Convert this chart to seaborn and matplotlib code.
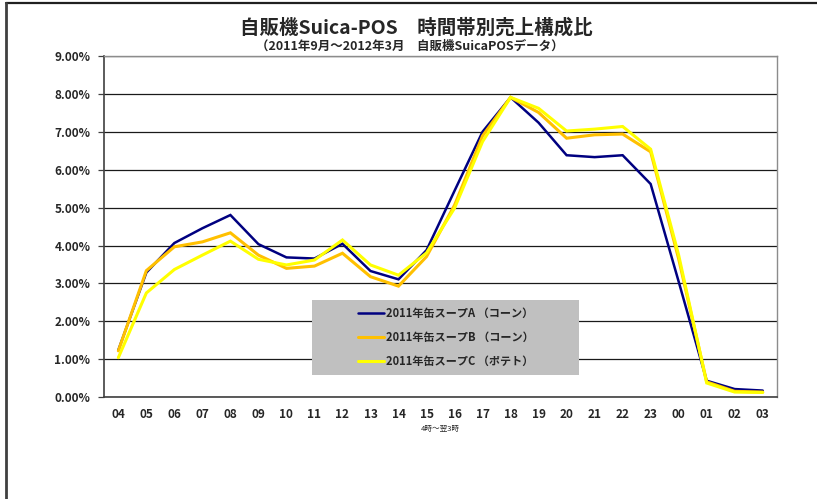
"""
Vending machine Suica-POS: hourly sales share by product (line chart).
"""

import numpy as np
import pandas as pd
import matplotlib
matplotlib.use("Agg")
import matplotlib.pyplot as plt
from matplotlib.patches import Rectangle
from matplotlib.lines import Line2D
import seaborn as sns

HOURS = ["04", "05", "06", "07", "08", "09", "10", "11", "12", "13", "14", "15",
         "16", "17", "18", "19", "20", "21", "22", "23", "00", "01", "02", "03"]

SERIES = ["2011年缶スープA （コーン）", "2011年缶スープB （コーン）", "2011年缶スープC （ポテト）"]

# share of sales per hour, in percent
SOUP_A = [1.24, 3.29, 4.07, 4.46, 4.81, 4.04, 3.69, 3.66, 4.05, 3.33, 3.11, 3.88,
          5.45, 7.01, 7.92, 7.25, 6.39, 6.34, 6.39, 5.63, 3.05, 0.43, 0.21, 0.17]
SOUP_B = [1.22, 3.34, 3.97, 4.10, 4.34, 3.75, 3.40, 3.46, 3.80, 3.18, 2.93, 3.71,
          5.07, 6.90, 7.92, 7.52, 6.84, 6.93, 6.95, 6.48, 3.65, 0.40, 0.15, 0.13]
SOUP_C = [1.04, 2.75, 3.37, 3.75, 4.12, 3.64, 3.49, 3.62, 4.15, 3.49, 3.22, 3.81,
          4.99, 6.75, 7.92, 7.63, 7.03, 7.08, 7.15, 6.55, 3.75, 0.37, 0.13, 0.12]

COLORS = ["#000080", "#FFC000", "#FFFF00"]
WIDTHS = [1.8, 2.2, 2.2]

Y_TICKS = [0, 1, 2, 3, 4, 5, 6, 7, 8, 9]

TITLE = "自販機Suica-POS　時間帯別売上構成比"
SUBTITLE = "（2011年9月～2012年3月　自販機SuicaPOSデータ）"
X_LABEL = "4時～翌3時"


def build_frame() -> pd.DataFrame:
    rows = []
    for name, values in zip(SERIES, [SOUP_A, SOUP_B, SOUP_C]):
        for hour, v in zip(HOURS, values):
            rows.append({"hour": hour, "share": v, "series": name})
    return pd.DataFrame(rows)


def main() -> None:
    sns.set_theme(style="white")
    plt.rcParams["font.family"] = ["Noto Sans CJK JP", "DejaVu Sans"]

    df = build_frame()

    fig = plt.figure(figsize=(8.17, 4.99), dpi=100)
    ax = fig.add_axes([0.1277, 0.2044, 0.823, 0.6824])

    sns.lineplot(
        data=df, x="hour", y="share", hue="series",
        palette=COLORS, hue_order=SERIES, sort=False, ax=ax, legend=False,
    )
    for line, lw in zip(ax.lines, WIDTHS):
        line.set_linewidth(lw)
        line.set_solid_joinstyle("miter")

    # axes
    ax.set_xlim(-0.5, len(HOURS) - 0.5)
    ax.set_ylim(0, 9)
    ax.set_yticks(Y_TICKS)
    ax.set_yticklabels([f"{v:.2f}%" for v in Y_TICKS], fontsize=8.5, fontweight="bold")
    ax.set_xticks(np.arange(len(HOURS)))
    ax.set_xticklabels(HOURS, fontsize=8.5, fontweight="bold")
    ax.set_xticks(np.arange(len(HOURS) + 1) - 0.5, minor=True)
    ax.tick_params(axis="x", which="major", length=0, pad=8)
    ax.tick_params(axis="x", which="minor", length=4, width=0.9, color="#404040", direction="out")
    ax.tick_params(axis="y", length=4, width=0.9, color="#404040", direction="out", left=True, pad=6)
    ax.set_xlabel(X_LABEL, fontsize=5.5, labelpad=3)
    ax.set_ylabel("")

    ax.grid(axis="y", color="#1a1a1a", linewidth=0.9)
    ax.grid(axis="x", visible=False)
    ax.set_axisbelow(True)
    for side in ["left", "bottom"]:
        ax.spines[side].set_color("#404040")
        ax.spines[side].set_linewidth(1.2)
    for side in ["top", "right"]:
        ax.spines[side].set_color("#8c8c8c")
        ax.spines[side].set_linewidth(1.0)

    # legend on a grey panel
    box = Rectangle((0.309, 0.065), 0.397, 0.22, transform=ax.transAxes,
                    facecolor="#C0C0C0", edgecolor="none", zorder=3)
    ax.add_patch(box)
    handles = [Line2D([], [], color=c, linewidth=lw) for c, lw in zip(COLORS, WIDTHS)]
    ax.legend(handles, SERIES, loc="center", bbox_to_anchor=(0.5075, 0.175),
              frameon=False, handlelength=2.4, handletextpad=0.1,
              labelspacing=1.0, prop={"weight": "bold", "size": 8})

    # titles
    fig.text(0.510, 0.944, TITLE, ha="center", va="center", fontsize=14, fontweight="bold")
    fig.text(0.501, 0.908, SUBTITLE, ha="center", va="center", fontsize=9, fontweight="bold")

    # outer frame (top and left edges only)
    fig.add_artist(Line2D([6 / 817, 1], [1 - 3 / 499, 1 - 3 / 499], transform=fig.transFigure,
                          color="#202020", linewidth=1.6))
    fig.add_artist(Line2D([6 / 817, 6 / 817], [0, 1 - 3 / 499], transform=fig.transFigure,
                          color="#404040", linewidth=2.0))

    fig.savefig("out.png", dpi=100)
    plt.close(fig)


if __name__ == "__main__":
    main()
